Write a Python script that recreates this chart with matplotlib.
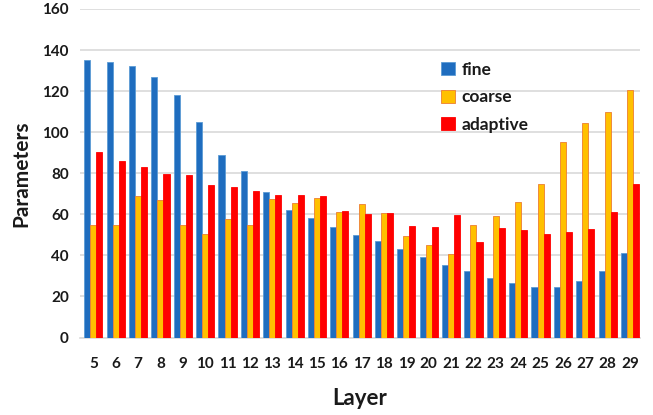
import numpy as np
import matplotlib
matplotlib.use('Agg')
import matplotlib.pyplot as plt

layers = list(range(5, 30))
fine = [135, 134, 132, 127, 118, 105, 89, 81, 71, 62, 58, 54, 50, 47, 43, 39, 35.5, 32.5, 29, 26.7, 24.6, 24.7, 27.3, 32.5, 41.2]
coarse = [55, 55, 69, 67, 55, 50.5, 57.7, 54.8, 67.4, 65.4, 68, 61, 65, 60.6, 49.3, 45.2, 40.7, 54.6, 59.4, 65.8, 75, 95, 104.6, 110, 120.5]
adaptive = [90.5, 86, 83, 79.7, 79.2, 74.4, 73.4, 71.5, 69.5, 69.4, 68.8, 61.6, 60, 60.6, 54.1, 53.6, 59.6, 46.4, 53.2, 52.2, 50.4, 51.2, 52.7, 60.9, 75]

plt.rcParams['font.family'] = ['Lato', 'DejaVu Sans']
plt.rcParams['font.weight'] = 'bold'
txt = '#1a1a1a'

fig = plt.figure(figsize=(6.53, 4.15), dpi=100)
ax = fig.add_axes([80/653, 1 - 337.5/415, 560/653, 328.5/415])

x = np.array(layers)
w = 0.27
ax.bar(x - w, fine, w, color='#1F6DBF', edgecolor='#5B9BD5', linewidth=0.6, label='fine', zorder=3)
ax.bar(x, coarse, w, color='#FFC000', edgecolor='#ED7D31', linewidth=0.6, label='coarse', zorder=3)
ax.bar(x + w, adaptive, w, color='#FF0000', edgecolor='#FF0000', linewidth=0.6, label='adaptive', zorder=3)

ax.set_xlim(4.4, 29.45)
ax.set_ylim(0, 160)
ax.set_yticks(range(0, 161, 20))
ax.set_xticks(layers)

# Grid
ax.grid(axis='y', color='#d9d9d9', lw=1.2, zorder=0)
for s in ['top', 'right', 'left']:
    ax.spines[s].set_visible(False)
ax.spines['bottom'].set_color('#d9d9d9')
ax.spines['bottom'].set_linewidth(1.2)
ax.tick_params(axis='both', length=0, labelsize=11, colors=txt)
ax.tick_params(axis='y', pad=8)
ax.tick_params(axis='x', pad=14)
for lab in ax.get_xticklabels() + ax.get_yticklabels():
    lab.set_fontweight('bold')

ax.set_xlabel('Layer', fontsize=16, color=txt, fontweight='bold', labelpad=12)
ax.set_ylabel('Parameters', fontsize=15, color=txt, fontweight='bold', labelpad=8)

ax.legend(loc='upper left', bbox_to_anchor=(425/653, 1 - 46/415), bbox_transform=fig.transFigure,
          frameon=False, handlelength=0.8, handleheight=0.8,
          labelspacing=0.67, handletextpad=0.4, labelcolor=txt,
          prop={'weight': 'bold', 'size': 12.5})

fig.savefig('out.png', dpi=100)
